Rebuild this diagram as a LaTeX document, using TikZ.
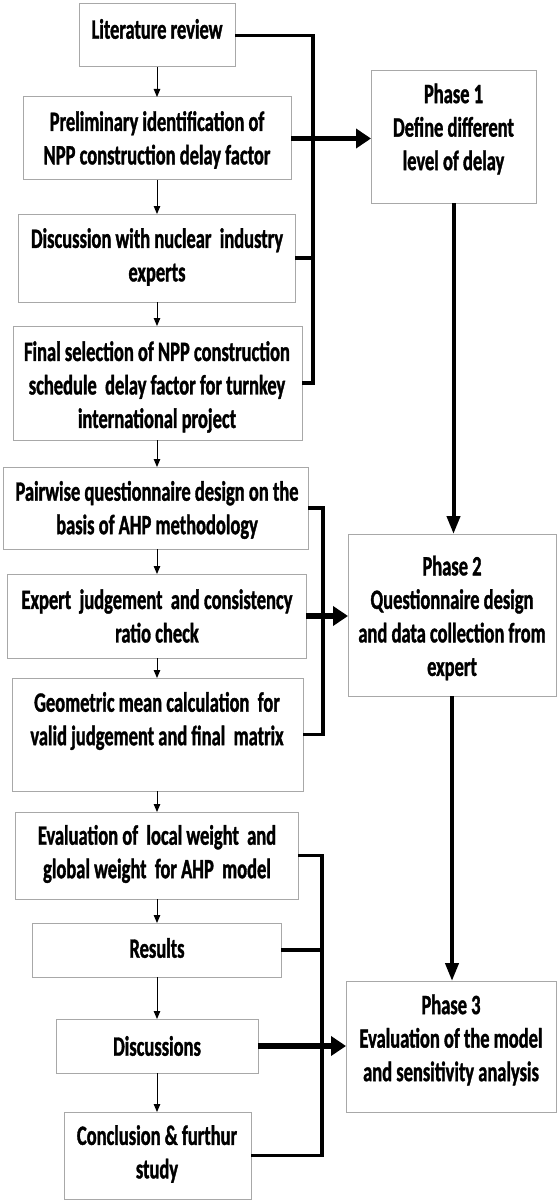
\documentclass[tikz,border=0pt]{standalone}
\usepackage{fontspec}
\setmainfont{Carlito}[FakeStretch=0.66,BoldFeatures={FakeBold=1.2}]
\usetikzlibrary{arrows.meta}
\definecolor{boxgray}{HTML}{A8A8A8}
\begin{document}
\begin{tikzpicture}[x=1pt,y=-1pt,
  box/.style={draw=boxgray,line width=1pt,inner sep=0pt,outer sep=0pt},
  txt/.style={align=center,font=\fontsize{28}{33.5}\selectfont\bfseries,inner sep=0pt},
  thinarrow/.style={line width=1pt,-{Triangle[length=8pt,width=6.5pt]}},
  bus/.style={line width=3.5pt},
  fatarrow/.style={line width=5.5pt,-{Triangle[length=15pt,width=19pt]}},
  phasearrow/.style={line width=4pt,-{Triangle[length=18pt,width=13pt]}}]
\fill[white] (0,0) rectangle (557,1201);
\useasboundingbox (0,0) rectangle (557,1201);

% left column boxes
\node[box,minimum width=156pt,minimum height=63pt] (lit) at (157,35.5) {};
\node[box,minimum width=268pt,minimum height=83pt] (pre) at (157,138.5) {};
\node[box,minimum width=277pt,minimum height=88pt] (dis) at (156.5,258) {};
\node[box,minimum width=289pt,minimum height=114pt] (fin) at (157.5,383) {};
\node[box,minimum width=305pt,minimum height=82pt] (pair) at (155.5,508) {};
\node[box,minimum width=299pt,minimum height=84pt] (exp) at (156.5,616) {};
\node[box,minimum width=291pt,minimum height=113pt] (geo) at (157.5,734.5) {};
\node[box,minimum width=283pt,minimum height=87pt] (eva) at (156.5,855.5) {};
\node[box,minimum width=249pt,minimum height=54pt] (res) at (156.5,950) {};
\node[box,minimum width=202pt,minimum height=54pt] (disc) at (157,1046) {};
\node[box,minimum width=187pt,minimum height=87pt] (con) at (157.5,1155.5) {};

% phase boxes
\node[box,minimum width=165pt,minimum height=132pt] (p1) at (453.5,137) {};
\node[box,minimum width=208pt,minimum height=162pt] (p2) at (452,615) {};
\node[box,minimum width=210pt,minimum height=131pt] (p3) at (451,1046.5) {};

% texts
\node[txt] (litt) at (157,29) {Literature review};
\node[txt] (pret) at (157,140) {Preliminary identification of\\NPP construction delay factor};
\node[txt] (dist) at (157,257) {Discussion with nuclear~ industry\\experts};
\node[txt] (fint) at (157,387) {Final selection of NPP construction\\schedule~ delay factor for turnkey\\international project};
\node[txt] (pairt) at (157,510) {Pairwise questionnaire design on the\\basis of AHP methodology};
\node[txt] (expt) at (157,616) {Expert~ judgement~ and consistency\\ratio check};
\node[txt] (geot) at (157,721) {Geometric mean calculation~ for\\valid judgement and final~ matrix};
\node[txt] (evat) at (157,854) {Evaluation of~ local weight~ and\\global weight~ for AHP~ model};
\node[txt] (rest) at (157,948) {Results};
\node[txt] (disct) at (157,1046) {Discussions};
\node[txt] (cont) at (157,1154) {Conclusion \& furthur\\study};
\node[txt] (p1t) at (453.5,129) {Phase 1\\Define different\\level of delay};
\node[txt] (p2t) at (452,618) {Phase 2\\Questionnaire design\\and data collection from\\expert};
\node[txt] (p3t) at (451,1040) {Phase 3\\Evaluation of the model\\and sensitivity analysis};

% thin arrows down the left column
\draw[thinarrow] (lit.south) -- (lit.south |- pre.north);
\draw[thinarrow] (pre.south) -- (pre.south |- dis.north);
\draw[thinarrow] (pre.south |- dis.south) -- (pre.south |- fin.north);
\draw[thinarrow] (pre.south |- fin.south) -- (pre.south |- pair.north);
\draw[thinarrow] (pre.south |- pair.south) -- (pre.south |- exp.north);
\draw[thinarrow] (pre.south |- exp.south) -- (pre.south |- geo.north);
\draw[thinarrow] (pre.south |- geo.south) -- (pre.south |- eva.north);
\draw[thinarrow] (pre.south |- eva.south) -- (pre.south |- res.north);
\draw[thinarrow] (pre.south |- res.south) -- (pre.south |- disc.north);
\draw[thinarrow] (pre.south |- disc.south) -- (pre.south |- con.north);

% bus coordinates
\coordinate (b1) at (313,0);
\coordinate (b2) at (323,0);
\coordinate (b3) at (322,0);

% bus 1
\draw[bus] (lit.east) -- (lit.east -| b1) -- (fin.east -| b1) -- (fin.east);
\draw[bus] (dis.east) -- (dis.east -| b1);
\draw[fatarrow] (pre.east) -- (pre.east -| p1.west);

% bus 2
\draw[bus] (pair.east) -- (pair.east -| b2) -- (geo.east -| b2) -- (geo.east);
\draw[fatarrow] (exp.east) -- (exp.east -| p2.west);

% bus 3
\draw[bus] (eva.east) -- (eva.east -| b3) -- (con.east -| b3) -- (con.east);
\draw[bus] (res.east) -- (res.east -| b3);
\draw[fatarrow] (disc.east) -- (disc.east -| p3.west);

% phase arrows
\draw[phasearrow] (p1.south) -- (p1.south |- p2.north);
\draw[phasearrow] (p2.south) -- (p2.south |- p3.north);
\end{tikzpicture}
\end{document}
